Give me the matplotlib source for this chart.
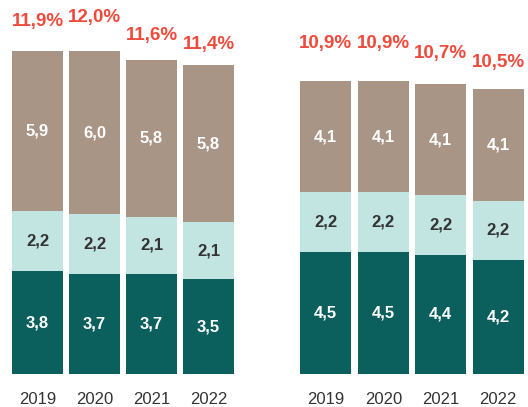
import matplotlib.pyplot as plt

# ---- data ----
years = ["2019", "2020", "2021", "2022"]

left_bottom = [3.8, 3.7, 3.7, 3.5]
left_middle = [2.2, 2.2, 2.1, 2.1]
left_top = [5.9, 6.0, 5.8, 5.8]
left_pct = [11.9, 12.0, 11.6, 11.4]

right_bottom = [4.5, 4.5, 4.4, 4.2]
right_middle = [2.2, 2.2, 2.2, 2.2]
right_top = [4.1, 4.1, 4.1, 4.1]
right_pct = [10.9, 10.9, 10.7, 10.5]

# ---- style ----
plt.rcParams['font.family'] = ['Liberation Sans', 'DejaVu Sans']
c_dark = "#0b5f5c"
c_light = "#c2e5e1"
c_brown = "#a99585"
c_red = "#f04a3c"


def fmt(v):
    return f"{v:.1f}".replace(".", ",")


def draw_group(ax, bottom, middle, top, pct, pct_shift):
    x = range(len(years))
    w = 0.89
    ax.bar(x, bottom, width=w, color=c_dark)
    ax.bar(x, middle, width=w, bottom=bottom, color=c_light)
    top_base = [b + m for b, m in zip(bottom, middle)]
    ax.bar(x, top, width=w, bottom=top_base, color=c_brown)

    for i in x:
        ax.text(i, bottom[i] / 2, fmt(bottom[i]), ha="center", va="center",
                color="white", fontsize=12, fontweight="bold")
        ax.text(i, bottom[i] + middle[i] / 2, fmt(middle[i]), ha="center",
                va="center", color="#333333", fontsize=12, fontweight="bold")
        ax.text(i, top_base[i] + top[i] / 2, fmt(top[i]), ha="center",
                va="center", color="white", fontsize=12, fontweight="bold")
        # percentage labels follow their own scale, as in the source slide
        ax.text(i, 1.7 * pct[i] + pct_shift, fmt(pct[i]) + "%", ha="center",
                va="center", color=c_red, fontsize=13.5, fontweight="bold")

    ax.set_xlim(-0.5, 3.5)
    ax.set_ylim(0, 13.8)
    ax.set_xticks(list(x))
    ax.set_xticklabels(years, fontsize=12, color="#333333")
    ax.tick_params(axis="x", length=0, pad=13)
    ax.set_yticks([])
    for s in ax.spines.values():
        s.set_visible(False)


W, H = 528, 407
fig = plt.figure(figsize=(W / 100, H / 100), dpi=100)
base = 33 / H
height = 374 / H
ax1 = fig.add_axes([9 / W, base, 228 / W, height])
ax2 = fig.add_axes([297 / W, base, 230 / W, height])

draw_group(ax1, left_bottom, left_middle, left_top, left_pct, -7.23)
draw_group(ax2, right_bottom, right_middle, right_top, right_pct, -6.35)

fig.savefig("out.png", dpi=100)
